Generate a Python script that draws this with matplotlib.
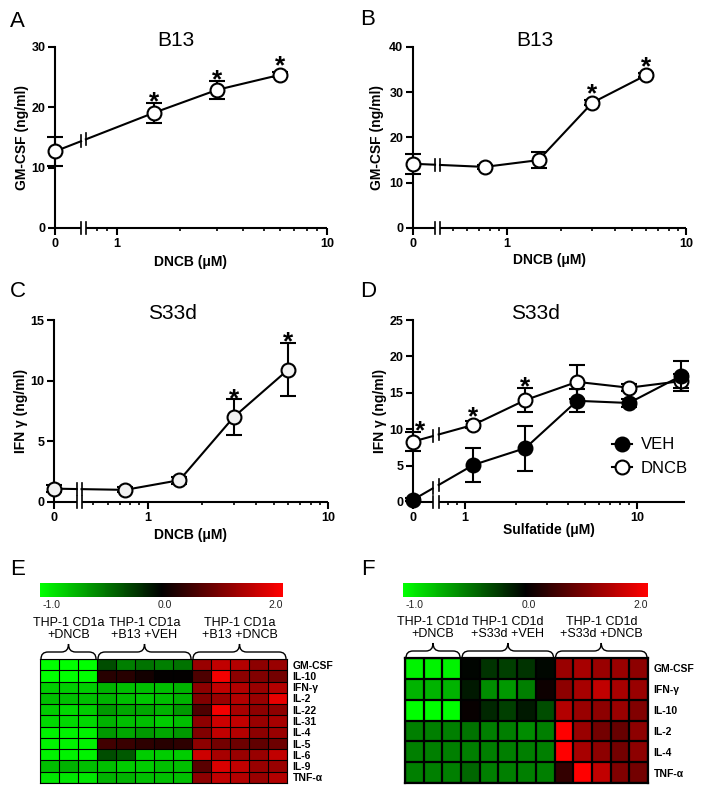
import numpy as np
import matplotlib
matplotlib.use("Agg")
import matplotlib.pyplot as plt
from matplotlib import ticker
from matplotlib.colors import LinearSegmentedColormap, TwoSlopeNorm
from matplotlib.path import Path
from matplotlib.patches import PathPatch
from matplotlib.lines import Line2D

plt.rcParams['font.family'] = ['Liberation Sans', 'DejaVu Sans']

# ---------------- data ----------------
# A: B13, GM-CSF vs DNCB
dose_a = [0, 1.5, 3, 6]
gmcsf_a = [12.7, 19.1, 22.9, 25.4]
gmcsf_a_err = [2.4, 1.7, 1.5, 0.4]
star_a = [False, True, True, True]

# B: B13, GM-CSF vs DNCB
dose_b = [0, 0.75, 1.5, 3, 6]
gmcsf_b = [14.2, 13.5, 15.0, 27.7, 33.8]
gmcsf_b_err = [2.2, 0.4, 1.8, 0.5, 0.5]
star_b = [False, False, False, True, True]

# C: S33d, IFN-g vs DNCB
dose_c = [0, 0.75, 1.5, 3, 6]
ifng_c = [1.1, 1.0, 1.8, 7.0, 10.9]
ifng_c_err = [0.3, 0.2, 0.3, 1.45, 2.2]
star_c = [False, False, False, True, True]

# D: S33d, IFN-g vs sulfatide
sulfatide = [0, 1.125, 2.25, 4.5, 9, 18]
ifng_d_dncb = [8.3, 10.6, 14.0, 16.5, 15.7, 16.6]
ifng_d_dncb_err = [1.3, 0.5, 1.65, 2.3, 0.5, 1.0]
star_d_dncb = [True, True, True, False, False, False]
ifng_d_veh = [0.3, 5.1, 7.4, 13.9, 13.6, 17.3]
ifng_d_veh_err = [0.2, 2.3, 3.1, 1.6, 0.5, 2.0]
star_d_veh = [False] * 6

# E: heatmap CD1a / B13
groups_e = ["THP-1 CD1a\n+DNCB", "THP-1 CD1a\n+B13 +VEH", "THP-1 CD1a\n+B13 +DNCB"]
rows_e = ["GM-CSF", "IL-10", "IFN-γ", "IL-2", "IL-22", "IL-31", "IL-4", "IL-5", "IL-6", "IL-9", "TNF-α"]
heat_e = [
    [-1.0, -1.0, -1.0, -0.30, -0.50, -0.45, -0.50, -0.45, 1.2, 1.5, 1.4, 1.1, 1.2],
    [-1.0, -1.0, -1.0, 0.30, 0.30, 0.15, 0.02, 0.02, 0.6, 1.9, 1.1, 1.0, 0.9],
    [-0.8, -0.8, -0.8, -0.70, -0.75, -0.75, -0.75, -0.70, 1.1, 1.5, 1.4, 1.2, 1.4],
    [-0.75, -0.75, -0.75, -0.70, -0.75, -0.78, -0.75, -0.70, 1.0, 1.2, 1.4, 1.2, 1.8],
    [-0.8, -0.85, -0.8, -0.60, -0.65, -0.65, -0.70, -0.60, 0.6, 1.9, 1.3, 1.1, 1.1],
    [-0.85, -0.85, -0.85, -0.70, -0.75, -0.75, -0.80, -0.75, 1.1, 1.6, 1.5, 1.2, 1.3],
    [-0.95, -0.95, -0.95, -0.60, -0.65, -0.60, -0.65, -0.60, 1.0, 1.5, 1.4, 1.1, 1.2],
    [-0.95, -0.95, -0.95, 0.50, 0.45, 0.35, 0.30, 0.35, 1.1, 0.9, 0.85, 0.75, 0.85],
    [-0.95, -0.95, -0.95, -0.30, -0.35, -0.80, -0.80, -0.80, 1.6, 1.3, 1.2, 1.2, 1.5],
    [-0.75, -0.7, -0.75, -0.75, -0.80, -0.80, -0.75, -0.75, 0.7, 1.7, 1.5, 1.2, 1.2],
    [-0.9, -0.9, -0.9, -0.70, -0.70, -0.75, -0.75, -0.75, 1.1, 1.5, 1.4, 1.2, 1.4],
]

# F: heatmap CD1d / S33d
groups_f = ["THP-1 CD1d\n+DNCB", "THP-1 CD1d\n+S33d +VEH", "THP-1 CD1d\n+S33d +DNCB"]
rows_f = ["GM-CSF", "IFN-γ", "IL-10", "IL-2", "IL-4", "TNF-α"]
heat_f = [
    [-0.95, -0.95, -0.95, -0.02, -0.20, -0.25, -0.20, -0.03, 1.2, 1.3, 1.2, 1.2, 1.1],
    [-0.7, -0.7, -0.7, -0.10, -0.55, -0.60, -0.50, 0.10, 1.1, 1.3, 1.5, 1.3, 1.2],
    [-1.0, -1.0, -1.0, 0.05, -0.15, -0.25, -0.10, -0.30, 1.4, 1.2, 1.1, 1.2, 1.0],
    [-0.5, -0.5, -0.5, -0.45, -0.50, -0.50, -0.55, -0.50, 2.0, 1.2, 0.9, 0.8, 1.1],
    [-0.5, -0.5, -0.5, -0.50, -0.50, -0.50, -0.50, -0.50, 2.0, 1.3, 1.1, 0.9, 1.1],
    [-0.5, -0.5, -0.5, -0.40, -0.50, -0.50, -0.50, -0.50, 0.4, 2.0, 1.5, 1.0, 0.9],
]
group_cols = [(0, 3), (3, 8), (8, 13)]

# ---------------- layout helpers ----------------
W, H = 709, 792
fig = plt.figure(figsize=(W / 100, H / 100), dpi=100)

ov = fig.add_axes([0, 0, 1, 1])
ov.set_xlim(0, W)
ov.set_ylim(H, 0)
ov.axis('off')
ov.patch.set_alpha(0)


def px_axes(l, t, r, b):
    return fig.add_axes([l / W, 1 - b / H, (r - l) / W, (b - t) / H])


def broken_log(u0, us):
    xs = 10 ** us

    def fwd(x):
        x = np.asarray(x, float)
        lg = np.log10(np.where(x > 0, x, 1.0))
        return np.where(x >= xs, lg, u0 + (us - u0) * x / xs)

    def inv(u):
        u = np.asarray(u, float)
        return np.where(u >= us, 10 ** np.minimum(u, 10), (u - u0) / (us - u0) * xs)

    return fwd, inv


LW = 1.5


def dose_panel(box, u0, ubl, ubr, xmax, ymax, ystep, series, title, title_x,
               xlabel, ylabel, ylab_x, xlab_y):
    ax = px_axes(*box)
    fwd, inv = broken_log(u0, ubr)
    ax.set_xscale('function', functions=(fwd, inv))
    ax.set_xlim(0, xmax)
    ax.set_ylim(0, ymax)
    for s in ['top', 'right', 'bottom']:
        ax.spines[s].set_visible(False)
    ax.spines['left'].set_linewidth(LW)

    ax.xaxis.set_major_locator(ticker.FixedLocator([0, 1, 10]))
    ax.xaxis.set_major_formatter(ticker.FixedFormatter(['0', '1', '10']))
    xs = 10 ** ubr
    minors = [m * d for d in (0.1, 1) for m in range(2, 10) if xs < m * d < xmax]
    ax.xaxis.set_minor_locator(ticker.FixedLocator(minors))
    ax.xaxis.set_minor_formatter(ticker.NullFormatter())
    ax.set_yticks(np.arange(0, ymax + 0.1, ystep))
    ax.tick_params(axis='both', which='major', direction='out', length=5, width=LW,
                   labelsize=9, pad=2)
    ax.tick_params(axis='x', which='minor', direction='out', length=2.5, width=1.2)
    for lab in ax.get_xticklabels() + ax.get_yticklabels():
        lab.set_fontweight('bold')

    ppu = ax.get_position().height * H / ymax
    dy = 6 / ppu
    xbl = float(inv(ubl))
    xbr = xs

    # broken x axis line
    ax.plot([0, xbl], [0, 0], color='k', lw=LW, clip_on=False, solid_capstyle='butt')
    ax.plot([xbr, xmax], [0, 0], color='k', lw=LW, clip_on=False, solid_capstyle='butt')
    for xb in (xbl, xbr):
        ax.plot([xb, xb], [-dy, dy], color='k', lw=1.2, clip_on=False)

    for x, y, err, stars, fc, z in series:
        u = fwd(x)
        t_l = (ubl - u[0]) / (u[1] - u[0])
        t_r = (ubr - u[0]) / (u[1] - u[0])
        ybl = y[0] + (y[1] - y[0]) * t_l
        ybr = y[0] + (y[1] - y[0]) * t_r
        ax.plot([x[0], xbl], [y[0], ybl], color='k', lw=LW, zorder=z, clip_on=False)
        ax.plot([xbr] + list(x[1:]), [ybr] + list(y[1:]), color='k', lw=LW,
                zorder=z, clip_on=False)
        for xb, yb in ((xbl, ybl), (xbr, ybr)):
            ax.plot([xb, xb], [yb - dy, yb + dy], color='k', lw=1.2, zorder=z,
                    clip_on=False)
        eb = ax.errorbar(x, y, yerr=err, fmt='o', ms=10, mfc=fc, mec='k', mew=1.5,
                         ecolor='k', elinewidth=LW, capsize=6, capthick=LW,
                         zorder=z + 0.5)
        for art in eb.get_children():
            art.set_clip_on(False)
        r_units = 7.5 / ppu
        fs = 19
        for xi, yi, ei, st in zip(x, y, err, stars):
            if st:
                top = max(yi + ei, yi + r_units)
                # star sitting on the y axis is nudged right, as in the source
                dx = 5 if xi == 0 else 0
                ax.annotate('*', (xi, top + (4 - 0.40 * fs * 100 / 72) / ppu),
                            xytext=(dx, 0), textcoords='offset points',
                            ha='center', va='baseline', fontsize=fs,
                            fontweight='bold', zorder=6, annotation_clip=False)

    ax.text(title_x, 1.035, title, transform=ax.transAxes, ha='center', va='center',
            fontsize=15)
    ax.set_xlabel(xlabel, fontsize=10, fontweight='bold')
    ax.set_ylabel(ylabel, fontsize=10, fontweight='bold')
    ax.yaxis.set_label_coords(ylab_x, 0.5)
    ax.xaxis.set_label_coords(0.5, xlab_y)
    return ax


dose_panel((55, 47, 327, 228), -0.295, -0.171, -0.148, 10, 30, 10,
           [(dose_a, gmcsf_a, gmcsf_a_err, star_a, 'white', 2)],
           'B13', 0.445, 'DNCB (μM)', 'GM-CSF (ng/ml)', -0.096, -0.149)
dose_panel((413, 47, 686, 228), -0.525, -0.402, -0.374, 10, 40, 10,
           [(dose_b, gmcsf_b, gmcsf_b_err, star_b, 'white', 2)],
           'B13', 0.447, 'DNCB (μM)', 'GM-CSF (ng/ml)', -0.106, -0.138)
dose_panel((54, 320, 328, 502), -0.52, -0.394, -0.367, 10, 15, 5,
           [(dose_c, ifng_c, ifng_c_err, star_c, '#f2f2f2', 2)],
           'S33d', 0.434, 'DNCB (μM)', 'IFN γ (ng/ml)', -0.095, -0.143)
ax_d = dose_panel((413, 320, 685, 502), -0.30, -0.186, -0.151, 19.05, 25, 5,
                  [(sulfatide, ifng_d_dncb, ifng_d_dncb_err, star_d_dncb, 'white', 2),
                   (sulfatide, ifng_d_veh, ifng_d_veh_err, star_d_veh, 'black', 3)],
                  'S33d', 0.449, 'Sulfatide (μM)', 'IFN γ (ng/ml)', -0.095, -0.115)

handles = [Line2D([], [], color='k', lw=LW, marker='o', ms=10, mfc='black', mec='k', mew=1.5),
           Line2D([], [], color='k', lw=LW, marker='o', ms=10, mfc='white', mec='k', mew=1.5)]
ax_d.legend(handles, ['VEH', 'DNCB'], loc='center left', bbox_to_anchor=(0.732, 0.25),
            frameon=False, fontsize=12, handlelength=1.2, handletextpad=0.5,
            labelspacing=0.5, borderpad=0, borderaxespad=0)

# ---------------- heatmaps ----------------
cmap = LinearSegmentedColormap.from_list('gkr', ['#00ff00', '#000000', '#ff0000'])
norm = TwoSlopeNorm(vmin=-1, vcenter=0, vmax=2)


def heat_panel(box, cbox, vals, rows, groups, grid_lw):
    ax = px_axes(*box)
    vals = np.array(vals)
    nrow, ncol = vals.shape
    mesh = ax.pcolormesh(vals, cmap=cmap, norm=norm, edgecolors='none',
                         antialiased=False)
    ax.hlines(np.arange(nrow + 1), 0, ncol, color='black', lw=grid_lw)
    ax.vlines(np.arange(ncol + 1), 0, nrow, color='black', lw=grid_lw)
    ax.set_ylim(nrow, 0)
    ax.set_xlim(0, ncol)
    ax.set_xticks([])
    ax.set_yticks(np.arange(nrow) + 0.5)
    ax.set_yticklabels(rows, fontsize=7.5, fontweight='bold')
    ax.yaxis.tick_right()
    ax.tick_params(axis='y', length=0, pad=4)
    for s in ax.spines.values():
        s.set_linewidth(grid_lw)

    cax = px_axes(*cbox)
    cb = fig.colorbar(mesh, cax=cax, orientation='horizontal')
    cb.set_ticks([])
    cb.outline.set_visible(False)
    for xf, txt, ha in ((0.012, '-1.0', 'left'), (0.514, '0.0', 'center'), (1.0, '2.0', 'right')):
        cax.text(xf, -0.6, txt, transform=cax.transAxes, ha=ha, va='center',
                 fontsize=7.5, color='#222222')

    l, t, r, b = box
    for (c0, c1), g in zip(group_cols, groups):
        x1 = l + (r - l) * c0 / ncol + 1
        x2 = l + (r - l) * c1 / ncol - 1
        xc = (x1 + x2) / 2
        yb, ym, yt, rr = t, t - 7, t - 15, 7
        verts = [(x1, yb), (x1, ym), (x1 + rr, ym), (xc - rr, ym), (xc, ym), (xc, yt),
                 (xc, ym), (xc + rr, ym), (x2 - rr, ym), (x2, ym), (x2, yb)]
        codes = [Path.MOVETO, Path.CURVE3, Path.CURVE3, Path.LINETO, Path.CURVE3,
                 Path.CURVE3, Path.CURVE3, Path.CURVE3, Path.LINETO, Path.CURVE3,
                 Path.CURVE3]
        ov.add_patch(PathPatch(Path(verts, codes), fill=False, lw=1.0, color='k'))
        ov.text(xc, t - 30, g, ha='center', va='center', fontsize=9,
                linespacing=0.95)


heat_panel((40, 659, 287, 783), (40, 583, 283, 597), heat_e, rows_e, groups_e, 0.8)
heat_panel((405, 658, 648, 783), (403, 583, 648, 597), heat_f, rows_f, groups_f, 1.6)

# panel letters
for letter, x, y in (('A', 10, 27), ('B', 360, 25), ('C', 10, 297),
                     ('D', 360, 297), ('E', 10, 575), ('F', 361, 575)):
    ov.text(x, y, letter, ha='left', va='baseline', fontsize=16)

fig.savefig('out.png', dpi=100)
